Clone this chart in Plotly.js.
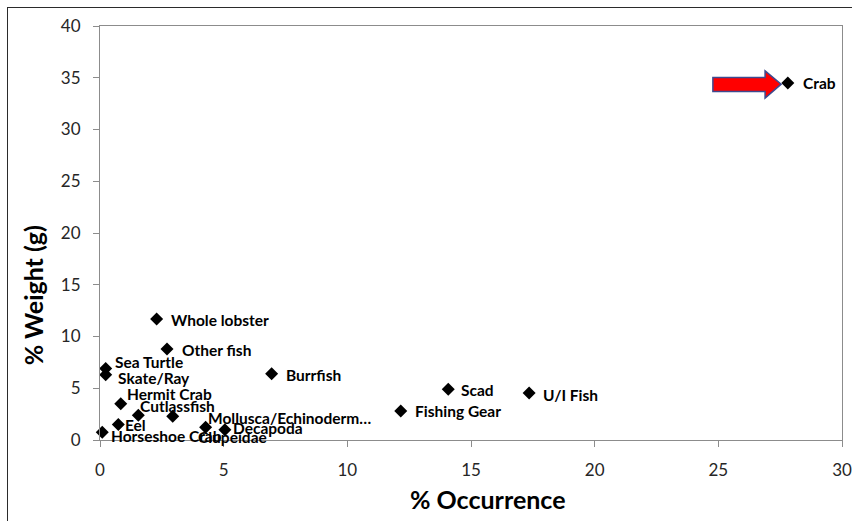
<!DOCTYPE html>
<html>
<head>
<meta charset="utf-8">
<script src="https://cdn.plot.ly/plotly-3.0.1.min.js"></script>
<style>
  html, body { margin: 0; padding: 0; background: #ffffff; }
  #wrap { position: relative; width: 852px; height: 521px; overflow: hidden; }
  #chart { position: absolute; left: 0; top: 0; width: 852px; height: 521px; }
  #frame { position: absolute; left: 7px; top: 7px; width: 900px; height: 600px;
           border-left: 1.5px solid #2b2b2b; border-top: 1.5px solid #2b2b2b; pointer-events: none; }
</style>
</head>
<body>
<div id="wrap">
  <div id="chart"></div>
  <div id="frame"></div>
</div>
<script>
// ---- data ----
const preyNames = ["Crab", "Whole lobster", "Other fish", "Sea Turtle", "Skate/Ray", "Burrfish",
                   "Hermit Crab", "Cutlassfish", "Clupeidae", "Eel", "Mollusca/Echinoderm\u2026",
                   "Decapoda", "Horseshoe Crab", "Scad", "U/I Fish", "Fishing Gear"];
const pctOccurrence = [27.81, 2.29, 2.71, 0.23, 0.23, 6.94,
                       0.84, 1.55, 2.94, 0.74, 4.27,
                       5.05, 0.09, 14.08, 17.35, 12.16];
const pctWeight = [34.5, 11.7, 8.8, 6.9, 6.3, 6.4,
                   3.5, 2.4, 2.3, 1.5, 1.24,
                   1.0, 0.75, 4.9, 4.55, 2.8];
const xTickVals = [0, 5, 10, 15, 20, 25, 30];
const yTickVals = [0, 5, 10, 15, 20, 25, 30, 35, 40];

// ---- label placement (pixel offsets from each marker: right, down) ----
const labelDx = [13, 12, 13, 7, 10, 12, 4, 0, 23, 5, 0, 6, 7, 11, 12, 12];
const labelDy = [0, 1, 1, -7, 3, 1, -10, -9, 21, 1, -9, -2, 4, 1, 2, 0];

const FONT = "Lato, 'Open Sans', sans-serif";

const trace = {
  x: pctOccurrence,
  y: pctWeight,
  mode: "markers",
  type: "scatter",
  marker: { symbol: "diamond", size: 10, color: "#000000" },
  hoverinfo: "skip",
  cliponaxis: false
};

const annotations = preyNames.map((n, i) => ({
  x: pctOccurrence[i], y: pctWeight[i], xref: "x", yref: "y",
  text: n, showarrow: false, xanchor: "left", yanchor: "middle",
  xshift: labelDx[i], yshift: -labelDy[i],
  font: { family: FONT, size: 15.5, color: "#000000", weight: "bold" }
}));

annotations.push({
  xref: "paper", yref: "paper", x: 0.5225, y: -0.143,
  xanchor: "center", yanchor: "middle", showarrow: false,
  text: "% Occurrence",
  font: { family: FONT, size: 25, color: "#000000", weight: "bold" }
});
annotations.push({
  xref: "paper", yref: "paper", x: -0.0905, y: 0.349,
  xanchor: "center", yanchor: "middle", showarrow: false, textangle: -90,
  text: "% Weight (g)",
  font: { family: FONT, size: 25, color: "#000000", weight: "bold" }
});

const axisCommon = {
  showline: true, mirror: true, linecolor: "#8c8c8c", linewidth: 1,
  ticks: "outside", ticklen: 6, tickcolor: "#8c8c8c", tickwidth: 1,
  showgrid: false, zeroline: false,
  tickfont: { family: FONT, size: 17, color: "#262626" },
  ticklabelstandoff: 9, fixedrange: true
};

const layout = {
  width: 852, height: 521,
  margin: { l: 100, r: 10, t: 26, b: 81, pad: 0 },
  paper_bgcolor: "#ffffff", plot_bgcolor: "#ffffff",
  showlegend: false,
  xaxis: Object.assign({}, axisCommon, { range: [0, 30], tickvals: xTickVals, ticktext: xTickVals.map(String) }),
  yaxis: Object.assign({}, axisCommon, { range: [0, 40], tickvals: yTickVals, ticktext: yTickVals.map(String) }),
  annotations: annotations,
  shapes: [{
    type: "path", xref: "x", yref: "y",
    path: "M 24.78 35.02 L 26.89 35.02 L 26.89 35.67 L 27.54 34.38 L 26.89 33.03 L 26.89 33.67 L 24.78 33.67 Z",
    fillcolor: "#ff0000", line: { color: "#3d4a8f", width: 1.5 }
  }]
};

Plotly.newPlot("chart", [trace], layout, { staticPlot: true, displayModeBar: false });
</script>
</body>
</html>
